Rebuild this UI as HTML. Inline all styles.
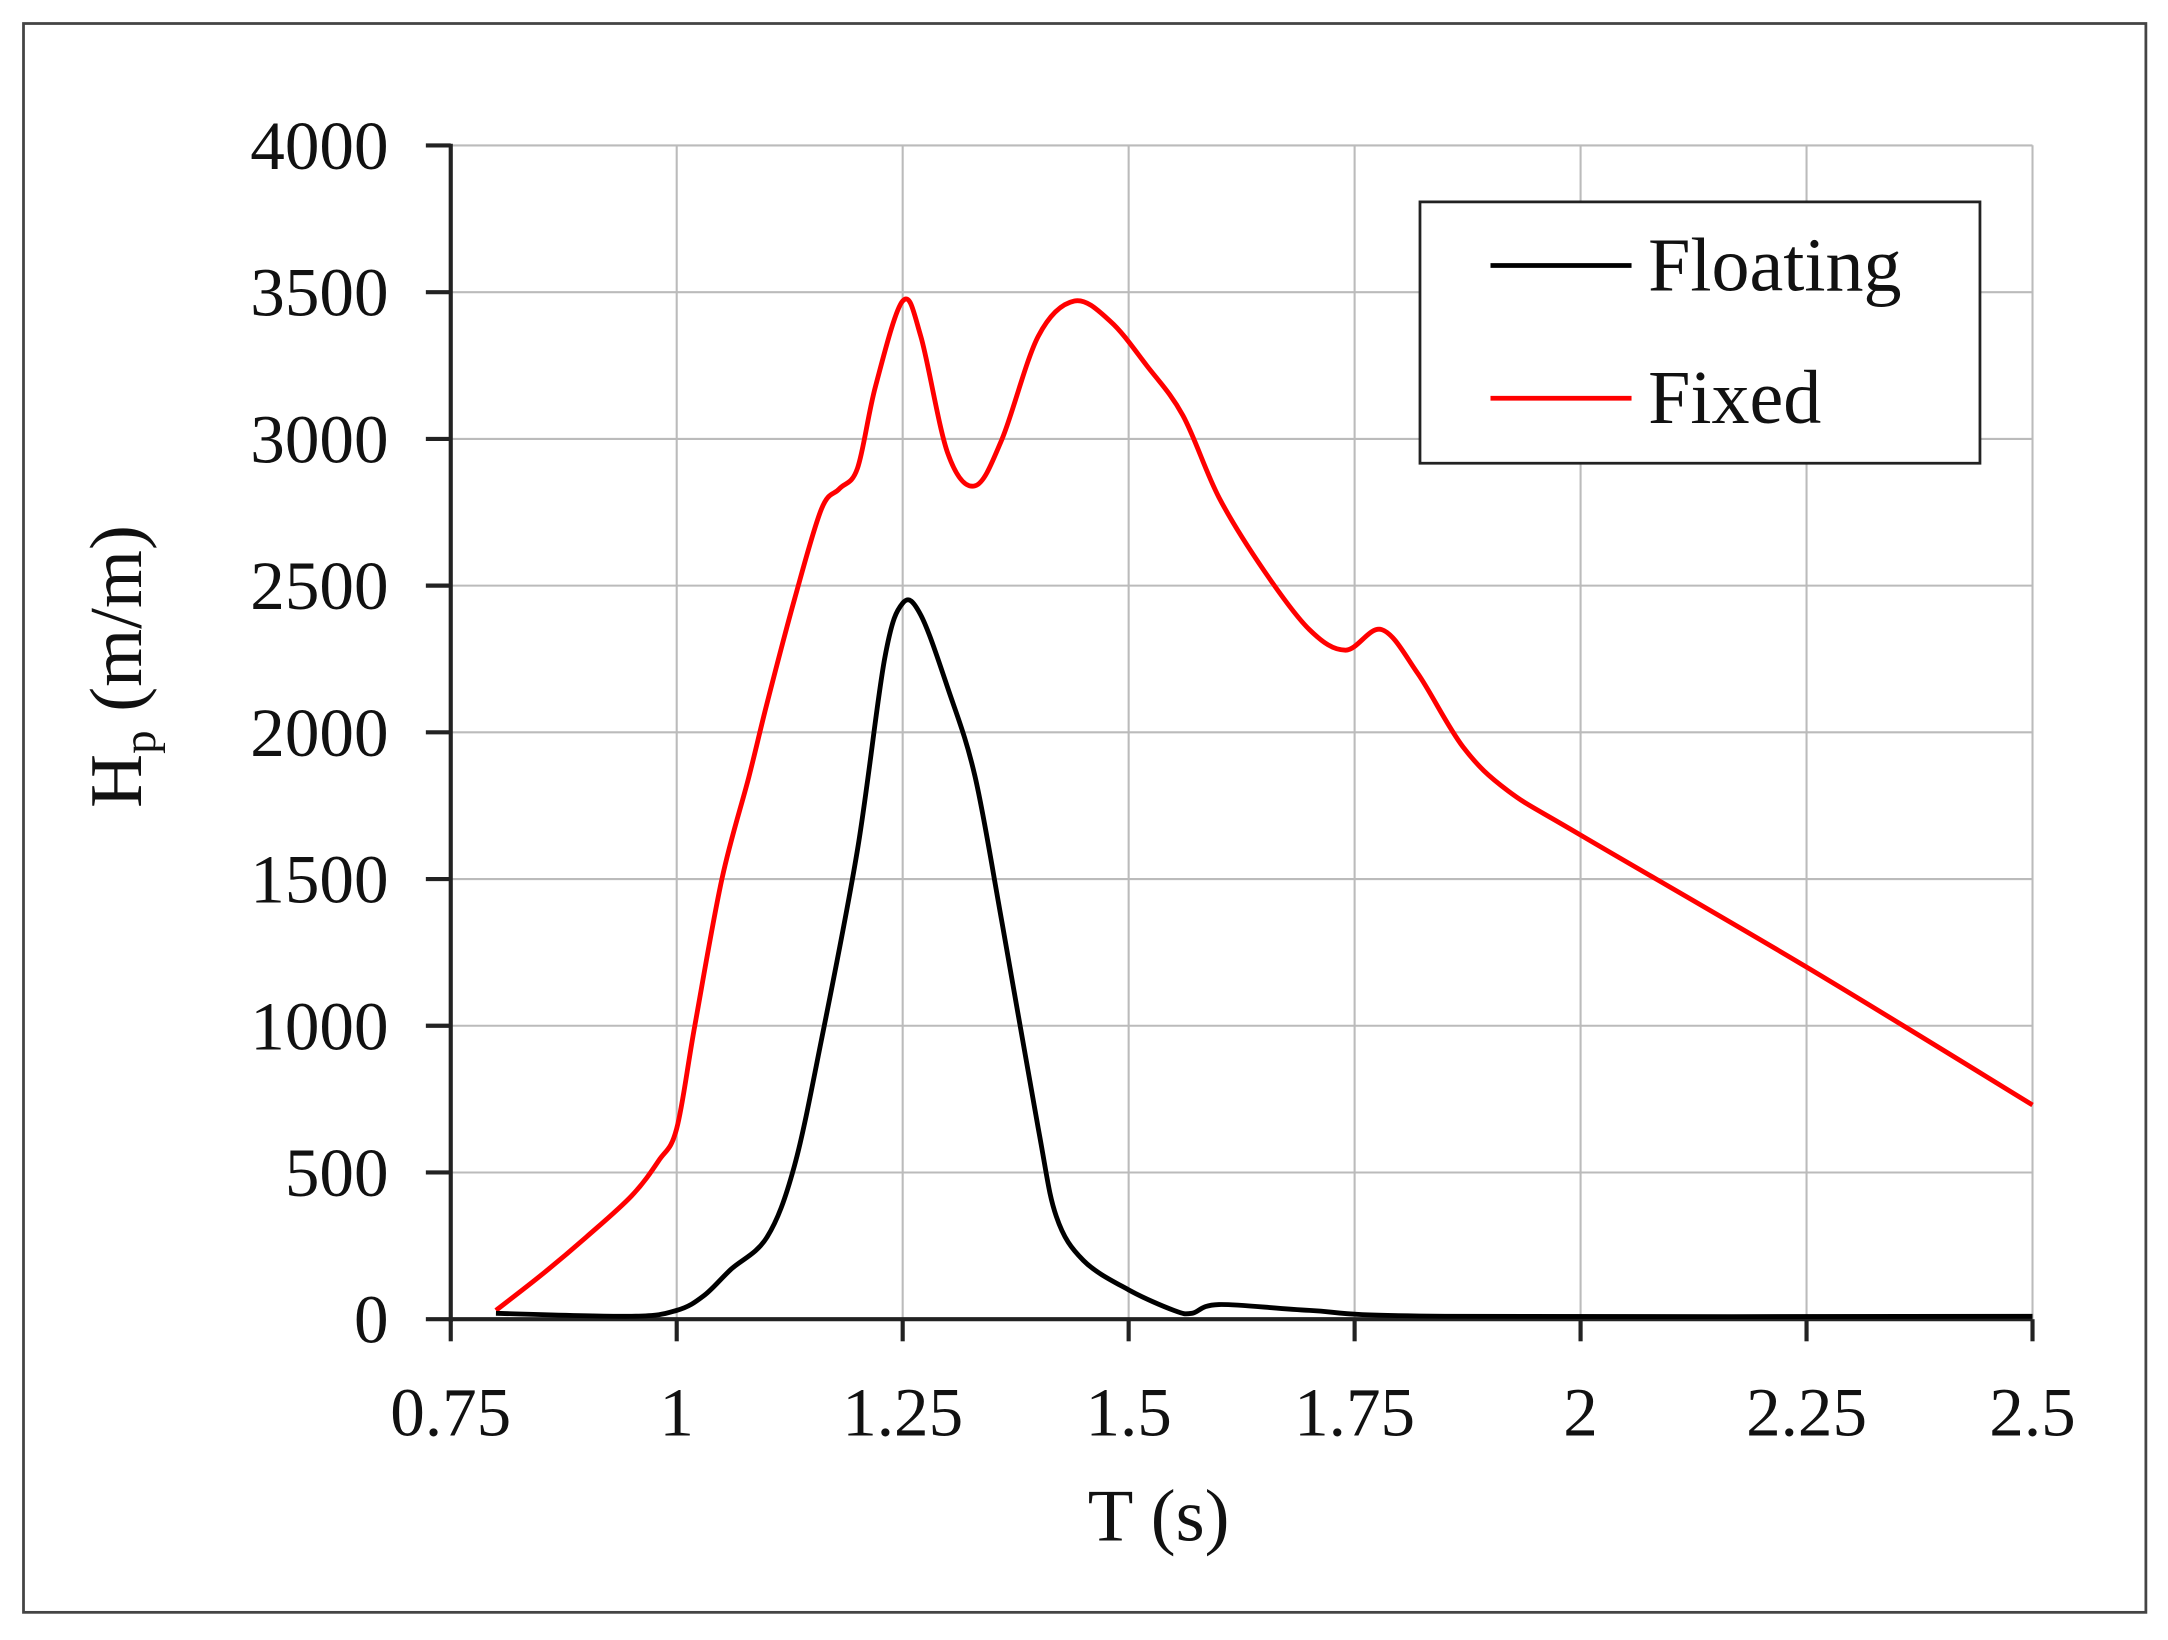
<!DOCTYPE html>
<html><head><meta charset="utf-8"><style>html,body{margin:0;padding:0;background:#fff}svg{display:block}</style></head>
<body>
<svg id="s" width="2168" height="1640" viewBox="0 0 1568 1186" preserveAspectRatio="none" xmlns="http://www.w3.org/2000/svg" font-family="'Liberation Serif', serif">
<rect x="0" y="0" width="1568" height="1186" fill="#fff"/>
<rect x="17" y="17" width="1535" height="1149" fill="none" stroke="#444" stroke-width="2"/>
<g id="grid" stroke="#bbb" stroke-width="1.5"></g>
<g id="axes" stroke="#222" stroke-width="3"></g>
<g id="lab" font-size="50" fill="#111"></g>
<path id="fx" fill="none" stroke="#f00" stroke-width="3.5"/>
<path id="fl" fill="none" stroke="#000" stroke-width="3.5"/>
<text x="838" y="1114" font-size="54" text-anchor="middle" fill="#111">T (s)</text>
<text transform="translate(102,482) rotate(-90)" font-size="54" text-anchor="middle" fill="#111">H<tspan font-size="34" dy="10">p</tspan><tspan dy="-10"> (m/m)</tspan></text>
<rect x="1027" y="146" width="405" height="189" fill="#fff" stroke="#222" stroke-width="2"/>
<line x1="1078" y1="192" x2="1180" y2="192" stroke="#000" stroke-width="3.5"/>
<line x1="1078" y1="288" x2="1180" y2="288" stroke="#f00" stroke-width="3.5"/>
<text x="1192" y="210" font-size="55" fill="#111">Floating</text>
<text x="1192" y="306" font-size="55" fill="#111">Fixed</text>
</svg>
<script>
var X=t=>326+(t-0.75)/0.25*163.43, Y=h=>954-h/500*106.1;
var g=document.getElementById('grid'),a=document.getElementById('axes'),l=document.getElementById('lab'),ns='http://www.w3.org/2000/svg';
function el(p,tag,at,txt){var e=document.createElementNS(ns,tag);for(var k in at)e.setAttribute(k,at[k]);if(txt)e.textContent=txt;p.appendChild(e);}
for(var i=1;i<=8;i++){el(g,'line',{x1:326,x2:1470,y1:Y(i*500),y2:Y(i*500)});}
for(var i=1;i<=7;i++){el(g,'line',{x1:X(0.75+i*0.25),x2:X(0.75+i*0.25),y1:105,y2:954});}
el(a,'line',{x1:326,x2:326,y1:104,y2:956});el(a,'line',{x1:326,x2:1470,y1:954,y2:954});
for(var i=0;i<=8;i++){el(a,'line',{x1:308,x2:326,y1:Y(i*500),y2:Y(i*500)});el(l,'text',{x:281,y:Y(i*500)+17,'text-anchor':'end'},String(i*500));}
var xl=['0.75','1','1.25','1.5','1.75','2','2.25','2.5'];
for(var i=0;i<8;i++){var x=X(0.75+i*0.25);el(a,'line',{x1:x,x2:x,y1:954,y2:970});el(l,'text',{x:x,y:1038,'text-anchor':'middle'},xl[i]);}
function path(pts){var p=pts.map(q=>[X(q[0]),Y(q[1])]);var d='M'+p[0][0]+','+p[0][1];
for(var i=0;i<p.length-1;i++){var p0=p[i-1]||p[i],p1=p[i],p2=p[i+1],p3=p[i+2]||p2;
d+=' C'+(p1[0]+(p2[0]-p0[0])/6)+','+(p1[1]+(p2[1]-p0[1])/6)+' '+(p2[0]-(p3[0]-p1[0])/6)+','+(p2[1]-(p3[1]-p1[1])/6)+' '+p2[0]+','+p2[1];}return d;}
document.getElementById('fx').setAttribute('d',path([[0.8,30],[0.85,150],[0.9,280],[0.95,420],[0.98,540],[1.0,650],[1.02,1000],[1.05,1500],[1.08,1850],[1.1,2100],[1.13,2450],[1.16,2760],[1.18,2830],[1.2,2900],[1.22,3180],[1.25,3470],[1.27,3350],[1.3,2950],[1.33,2840],[1.36,3000],[1.4,3350],[1.44,3470],[1.48,3400],[1.52,3250],[1.56,3080],[1.6,2800],[1.65,2550],[1.7,2350],[1.74,2280],[1.78,2350],[1.82,2200],[1.87,1950],[1.92,1800],[2.0,1650],[2.25,1200],[2.5,730]]));
document.getElementById('fl').setAttribute('d',path([[0.8,20],[0.95,10],[1.0,30],[1.03,80],[1.06,170],[1.1,280],[1.13,520],[1.16,950],[1.2,1600],[1.23,2250],[1.25,2440],[1.27,2400],[1.3,2150],[1.33,1850],[1.36,1350],[1.4,650],[1.42,350],[1.45,200],[1.5,100],[1.55,30],[1.57,20],[1.6,50],[1.7,30],[1.85,10],[2.5,10]]));
</script>
</body></html>
